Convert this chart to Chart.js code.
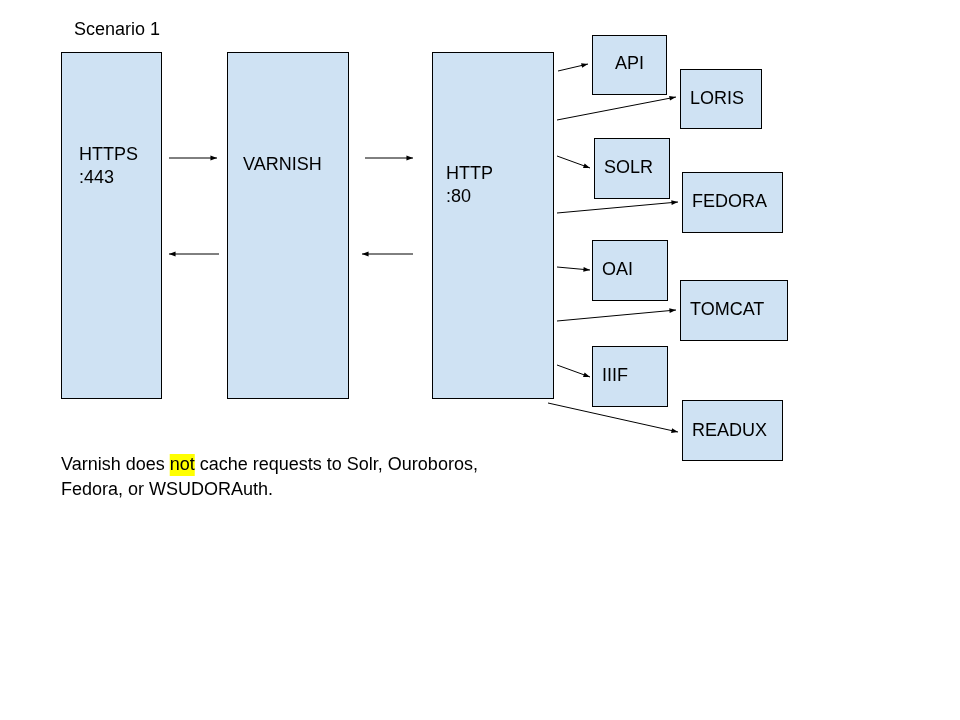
<!DOCTYPE html>
<html>
<head>
<meta charset="utf-8">
<script src="https://cdn.jsdelivr.net/npm/chart.js@4"></script>
<style>body{margin:0;background:#fff}</style>
</head>
<body>
<canvas id="c" width="960" height="720"></canvas>
<script>
// boxes: [label lines, left, top, right, bottom, text x, text y]
const boxNames = ['HTTPS\n:443', 'VARNISH', 'HTTP\n:80', 'API', 'LORIS', 'SOLR', 'FEDORA', 'OAI', 'TOMCAT', 'IIIF', 'READUX'];
const boxRects = [
  [61, 52, 161, 398], [227, 52, 348, 398], [432, 52, 553, 398],
  [592, 35, 666, 94], [680, 69, 761, 128], [594, 138, 669, 198], [682, 172, 782, 232],
  [592, 240, 667, 300], [680, 280, 787, 340], [592, 346, 667, 406], [682, 400, 782, 460]
];
const boxText = [[79, 155], [243, 165], [446, 174], [615, 64], [690, 99], [604, 168], [692, 202], [602, 270], [690, 310], [602, 376], [692, 431]];
// arrows: from -> to
const arrows = [
  [169, 158, 217, 158], [219, 254, 169, 254], [365, 158, 413, 158], [413, 254, 362, 254],
  [558, 71, 588, 64], [557, 120, 676, 97], [557, 156, 590, 168], [557, 213, 678, 202],
  [557, 267, 590, 270], [557, 321, 676, 310], [557, 365, 590, 377], [548, 403, 678, 432]
];
const titleText = 'Scenario 1';
const noteLines = [['Varnish does ', 'not', ' cache requests to Solr, Ouroboros,'], ['Fedora, or WSUDORAuth.']];

const font = '18px "Liberation Sans", Arial, sans-serif';

const diagram = {
  id: 'diagram',
  afterDatasetsDraw(chart) {
    const ctx = chart.ctx, x = chart.scales.x, y = chart.scales.y;
    const px = v => x.getPixelForValue(v), py = v => y.getPixelForValue(v);
    ctx.save();
    ctx.font = font;
    ctx.textBaseline = 'middle';
    boxRects.forEach((r, i) => {
      ctx.fillStyle = '#cfe2f3';
      ctx.strokeStyle = '#000';
      ctx.lineWidth = 1;
      ctx.fillRect(px(r[0]), py(r[1]), px(r[2]) - px(r[0]), py(r[3]) - py(r[1]));
      ctx.strokeRect(px(r[0]) + 0.5, py(r[1]) + 0.5, px(r[2]) - px(r[0]), py(r[3]) - py(r[1]));
      ctx.fillStyle = '#000';
      boxNames[i].split('\n').forEach((t, k) => ctx.fillText(t, px(boxText[i][0]), py(boxText[i][1] + k * 23)));
    });
    arrows.forEach(a => {
      const x1 = px(a[0]), y1 = py(a[1]), x2 = px(a[2]), y2 = py(a[3]);
      const ang = Math.atan2(y2 - y1, x2 - x1);
      ctx.strokeStyle = '#000';
      ctx.lineWidth = 1;
      ctx.beginPath(); ctx.moveTo(x1, y1); ctx.lineTo(x2, y2); ctx.stroke();
      ctx.fillStyle = '#000';
      ctx.beginPath();
      ctx.moveTo(x2, y2);
      ctx.lineTo(x2 - 7 * Math.cos(ang - 0.35), y2 - 7 * Math.sin(ang - 0.35));
      ctx.lineTo(x2 - 7 * Math.cos(ang + 0.35), y2 - 7 * Math.sin(ang + 0.35));
      ctx.closePath(); ctx.fill();
    });
    ctx.fillStyle = '#000';
    ctx.fillText(titleText, px(74), py(30));
    noteLines.forEach((parts, k) => {
      let cx = px(61); const cy = py(465 + k * 25);
      parts.forEach((p, j) => {
        const w = ctx.measureText(p).width;
        if (j === 1) { ctx.fillStyle = '#ffff00'; ctx.fillRect(cx, cy - 11, w, 22); }
        ctx.fillStyle = '#000';
        ctx.fillText(p, cx, cy);
        cx += w;
      });
    });
    ctx.restore();
  }
};

new Chart(document.getElementById('c'), {
  type: 'scatter',
  data: { datasets: [{ data: [], pointRadius: 0 }] },
  options: {
    responsive: false,
    animation: false,
    layout: { padding: 0 },
    plugins: { legend: { display: false }, tooltip: { enabled: false } },
    scales: {
      x: { type: 'linear', min: 0, max: 960, display: false },
      y: { type: 'linear', min: 0, max: 720, reverse: true, display: false }
    }
  },
  plugins: [diagram]
});
</script>
</body>
</html>
